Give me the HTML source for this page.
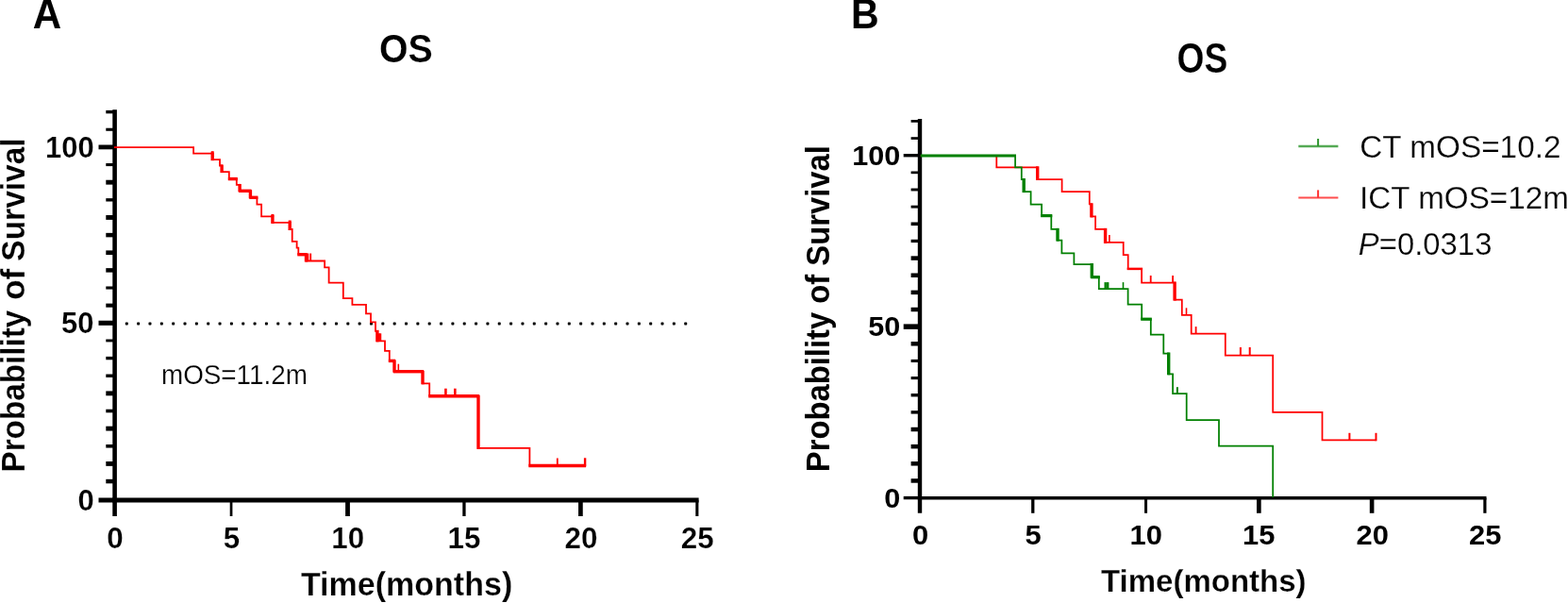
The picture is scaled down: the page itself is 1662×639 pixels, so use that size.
<!DOCTYPE html>
<html lang="en"><head><meta charset="utf-8"><title>OS survival curves</title>
<style>
html,body{margin:0;padding:0;background:#fff;}
body{width:1662px;height:639px;overflow:hidden;}
svg{display:block;}
text{font-family:"Liberation Sans",sans-serif;fill:#000;}
</style></head><body>
<svg width="1662" height="639" viewBox="0 0 1662 639">
<rect width="1662" height="639" fill="#ffffff"/>
<g>
<line x1="121.60" y1="116.20" x2="121.60" y2="547.00" stroke="#000" stroke-width="4.6" />
<line x1="119.30" y1="530.00" x2="740.60" y2="530.00" stroke="#000" stroke-width="5.0" />
<line x1="104.50" y1="530.00" x2="121.60" y2="530.00" stroke="#000" stroke-width="5.0" />
<line x1="112.30" y1="510.06" x2="121.60" y2="510.06" stroke="#000" stroke-width="4.5" />
<line x1="112.30" y1="491.42" x2="121.60" y2="491.42" stroke="#000" stroke-width="4.9" />
<line x1="112.30" y1="472.78" x2="121.60" y2="472.78" stroke="#000" stroke-width="3.6" />
<line x1="112.30" y1="454.14" x2="121.60" y2="454.14" stroke="#000" stroke-width="4.9" />
<line x1="112.30" y1="435.50" x2="121.60" y2="435.50" stroke="#000" stroke-width="3.6" />
<line x1="112.30" y1="416.86" x2="121.60" y2="416.86" stroke="#000" stroke-width="4.9" />
<line x1="112.30" y1="398.22" x2="121.60" y2="398.22" stroke="#000" stroke-width="3.4" />
<line x1="112.30" y1="379.58" x2="121.60" y2="379.58" stroke="#000" stroke-width="3.4" />
<line x1="112.30" y1="360.94" x2="121.60" y2="360.94" stroke="#000" stroke-width="2.9" />
<line x1="104.50" y1="342.30" x2="121.60" y2="342.30" stroke="#000" stroke-width="5.1000000000000005" />
<line x1="112.30" y1="323.66" x2="121.60" y2="323.66" stroke="#000" stroke-width="4.1000000000000005" />
<line x1="112.30" y1="305.02" x2="121.60" y2="305.02" stroke="#000" stroke-width="3.1" />
<line x1="112.30" y1="286.38" x2="121.60" y2="286.38" stroke="#000" stroke-width="4.5" />
<line x1="112.30" y1="267.74" x2="121.60" y2="267.74" stroke="#000" stroke-width="4.7" />
<line x1="112.30" y1="249.10" x2="121.60" y2="249.10" stroke="#000" stroke-width="4.5" />
<line x1="112.30" y1="230.46" x2="121.60" y2="230.46" stroke="#000" stroke-width="4.9" />
<line x1="112.30" y1="211.82" x2="121.60" y2="211.82" stroke="#000" stroke-width="3.4" />
<line x1="112.30" y1="193.18" x2="121.60" y2="193.18" stroke="#000" stroke-width="4.9" />
<line x1="112.30" y1="174.54" x2="121.60" y2="174.54" stroke="#000" stroke-width="3.1" />
<line x1="104.50" y1="155.90" x2="121.60" y2="155.90" stroke="#000" stroke-width="4.800000000000001" />
<line x1="112.30" y1="137.26" x2="121.60" y2="137.26" stroke="#000" stroke-width="3.1" />
<line x1="112.30" y1="118.62" x2="121.60" y2="118.62" stroke="#000" stroke-width="3.4" />
<line x1="245.05" y1="530.00" x2="245.05" y2="547.00" stroke="#000" stroke-width="2.7" />
<line x1="368.50" y1="530.00" x2="368.50" y2="547.00" stroke="#000" stroke-width="4.8" />
<line x1="491.95" y1="530.00" x2="491.95" y2="547.00" stroke="#000" stroke-width="3.3" />
<line x1="615.40" y1="530.00" x2="615.40" y2="547.00" stroke="#000" stroke-width="4.7" />
<line x1="738.85" y1="530.00" x2="738.85" y2="547.00" stroke="#000" stroke-width="3.1" />
<text x="113.38" y="580.60" font-size="30.5" font-weight="bold" textLength="17.47" lengthAdjust="spacingAndGlyphs"  style="stroke:#fff;stroke-width:0.2px;paint-order:fill stroke">0</text>
<text x="236.85" y="580.60" font-size="30.5" font-weight="bold" textLength="17.47" lengthAdjust="spacingAndGlyphs"  style="stroke:#fff;stroke-width:0.2px;paint-order:fill stroke">5</text>
<text x="351.27" y="580.60" font-size="30.5" font-weight="bold" textLength="34.94" lengthAdjust="spacingAndGlyphs"  style="stroke:#fff;stroke-width:0.2px;paint-order:fill stroke">10</text>
<text x="474.49" y="580.60" font-size="30.5" font-weight="bold" textLength="34.94" lengthAdjust="spacingAndGlyphs"  style="stroke:#fff;stroke-width:0.2px;paint-order:fill stroke">15</text>
<text x="598.64" y="580.60" font-size="30.5" font-weight="bold" textLength="34.94" lengthAdjust="spacingAndGlyphs"  style="stroke:#fff;stroke-width:0.2px;paint-order:fill stroke">20</text>
<text x="721.86" y="580.60" font-size="30.5" font-weight="bold" textLength="34.94" lengthAdjust="spacingAndGlyphs"  style="stroke:#fff;stroke-width:0.2px;paint-order:fill stroke">25</text>
<text x="48.09" y="166.60" font-size="30.5" font-weight="bold" textLength="51.65" lengthAdjust="spacingAndGlyphs"  style="stroke:#fff;stroke-width:0.2px;paint-order:fill stroke">100</text>
<text x="65.08" y="353.20" font-size="30.5" font-weight="bold" textLength="34.44" lengthAdjust="spacingAndGlyphs"  style="stroke:#fff;stroke-width:0.2px;paint-order:fill stroke">50</text>
<text x="82.46" y="540.60" font-size="30.5" font-weight="bold" textLength="17.22" lengthAdjust="spacingAndGlyphs"  style="stroke:#fff;stroke-width:0.2px;paint-order:fill stroke">0</text>
<text x="34.85" y="29.70" font-size="45" font-weight="bold" textLength="30.40" lengthAdjust="spacingAndGlyphs" >A</text>
<text x="402.03" y="65.60" font-size="42.5" font-weight="bold" textLength="56.74" lengthAdjust="spacingAndGlyphs"  style="stroke:#fff;stroke-width:0.2px;paint-order:fill stroke">OS</text>
<text x="318.96" y="631.00" font-size="35" font-weight="bold" textLength="224.27" lengthAdjust="spacingAndGlyphs"  style="stroke:#fff;stroke-width:0.25px;paint-order:fill stroke">Time(months)</text>
<text style="stroke:#fff;stroke-width:0.15px;paint-order:fill stroke" transform="translate(25.70,500.56) rotate(-90)" x="0" y="0" font-size="35" font-weight="bold" textLength="171.91" lengthAdjust="spacingAndGlyphs">Probability</text>
<text style="stroke:#fff;stroke-width:0.15px;paint-order:fill stroke" transform="translate(25.70,317.79) rotate(-90)" x="0" y="0" font-size="35" font-weight="bold" textLength="32.85" lengthAdjust="spacingAndGlyphs">of</text>
<text style="stroke:#fff;stroke-width:0.15px;paint-order:fill stroke" transform="translate(25.70,276.71) rotate(-90)" x="0" y="0" font-size="35" font-weight="bold" textLength="130.39" lengthAdjust="spacingAndGlyphs">Survival</text>
<text x="170.99" y="406.60" font-size="30" font-weight="normal" textLength="154.87" lengthAdjust="spacingAndGlyphs"  style="stroke:#fff;stroke-width:0.25px;paint-order:fill stroke">mOS=11.2m</text>
<rect x="132.80" y="341.40" width="3.0" height="3.0" rx="0.7" fill="#000"/>
<rect x="145.14" y="341.40" width="3.0" height="3.0" rx="0.7" fill="#000"/>
<rect x="157.48" y="341.40" width="3.0" height="3.0" rx="0.7" fill="#000"/>
<rect x="169.83" y="341.40" width="3.0" height="3.0" rx="0.7" fill="#000"/>
<rect x="182.17" y="341.40" width="3.0" height="3.0" rx="0.7" fill="#000"/>
<rect x="194.51" y="341.40" width="3.0" height="3.0" rx="0.7" fill="#000"/>
<rect x="206.85" y="341.40" width="3.0" height="3.0" rx="0.7" fill="#000"/>
<rect x="219.19" y="341.40" width="3.0" height="3.0" rx="0.7" fill="#000"/>
<rect x="231.54" y="341.40" width="3.0" height="3.0" rx="0.7" fill="#000"/>
<rect x="243.88" y="341.40" width="3.0" height="3.0" rx="0.7" fill="#000"/>
<rect x="256.22" y="341.40" width="3.0" height="3.0" rx="0.7" fill="#000"/>
<rect x="268.56" y="341.40" width="3.0" height="3.0" rx="0.7" fill="#000"/>
<rect x="280.90" y="341.40" width="3.0" height="3.0" rx="0.7" fill="#000"/>
<rect x="293.25" y="341.40" width="3.0" height="3.0" rx="0.7" fill="#000"/>
<rect x="305.59" y="341.40" width="3.0" height="3.0" rx="0.7" fill="#000"/>
<rect x="317.93" y="341.40" width="3.0" height="3.0" rx="0.7" fill="#000"/>
<rect x="330.27" y="341.40" width="3.0" height="3.0" rx="0.7" fill="#000"/>
<rect x="342.61" y="341.40" width="3.0" height="3.0" rx="0.7" fill="#000"/>
<rect x="354.96" y="341.40" width="3.0" height="3.0" rx="0.7" fill="#000"/>
<rect x="367.30" y="341.40" width="3.0" height="3.0" rx="0.7" fill="#000"/>
<rect x="379.64" y="341.40" width="3.0" height="3.0" rx="0.7" fill="#000"/>
<rect x="391.98" y="341.40" width="3.0" height="3.0" rx="0.7" fill="#000"/>
<rect x="404.32" y="341.40" width="3.0" height="3.0" rx="0.7" fill="#000"/>
<rect x="416.67" y="341.40" width="3.0" height="3.0" rx="0.7" fill="#000"/>
<rect x="429.01" y="341.40" width="3.0" height="3.0" rx="0.7" fill="#000"/>
<rect x="441.35" y="341.40" width="3.0" height="3.0" rx="0.7" fill="#000"/>
<rect x="453.69" y="341.40" width="3.0" height="3.0" rx="0.7" fill="#000"/>
<rect x="466.03" y="341.40" width="3.0" height="3.0" rx="0.7" fill="#000"/>
<rect x="478.38" y="341.40" width="3.0" height="3.0" rx="0.7" fill="#000"/>
<rect x="490.72" y="341.40" width="3.0" height="3.0" rx="0.7" fill="#000"/>
<rect x="503.06" y="341.40" width="3.0" height="3.0" rx="0.7" fill="#000"/>
<rect x="515.40" y="341.40" width="3.0" height="3.0" rx="0.7" fill="#000"/>
<rect x="527.74" y="341.40" width="3.0" height="3.0" rx="0.7" fill="#000"/>
<rect x="540.09" y="341.40" width="3.0" height="3.0" rx="0.7" fill="#000"/>
<rect x="552.43" y="341.40" width="3.0" height="3.0" rx="0.7" fill="#000"/>
<rect x="564.77" y="341.40" width="3.0" height="3.0" rx="0.7" fill="#000"/>
<rect x="577.11" y="341.40" width="3.0" height="3.0" rx="0.7" fill="#000"/>
<rect x="589.45" y="341.40" width="3.0" height="3.0" rx="0.7" fill="#000"/>
<rect x="601.80" y="341.40" width="3.0" height="3.0" rx="0.7" fill="#000"/>
<rect x="614.14" y="341.40" width="3.0" height="3.0" rx="0.7" fill="#000"/>
<rect x="626.48" y="341.40" width="3.0" height="3.0" rx="0.7" fill="#000"/>
<rect x="638.82" y="341.40" width="3.0" height="3.0" rx="0.7" fill="#000"/>
<rect x="651.16" y="341.40" width="3.0" height="3.0" rx="0.7" fill="#000"/>
<rect x="663.51" y="341.40" width="3.0" height="3.0" rx="0.7" fill="#000"/>
<rect x="675.85" y="341.40" width="3.0" height="3.0" rx="0.7" fill="#000"/>
<rect x="688.19" y="341.40" width="3.0" height="3.0" rx="0.7" fill="#000"/>
<rect x="700.53" y="341.40" width="3.0" height="3.0" rx="0.7" fill="#000"/>
<rect x="712.87" y="341.40" width="3.0" height="3.0" rx="0.7" fill="#000"/>
<rect x="725.22" y="341.40" width="3.0" height="3.0" rx="0.7" fill="#000"/>
<path d="M121.00,156.20 H205.10 V162.60 H225.20 V169.20 H233.00 V175.50 H235.10 V182.10 H242.80 V189.60 H250.80 V195.90 H254.10 V202.30 H265.40 V209.30 H272.40 V216.70 H277.10 V229.30 H288.90 V235.90 H307.20 V243.00 H309.70 V255.80 H314.60 V262.70 H316.30 V269.70 H324.50 V276.50 H344.10 V283.30 H348.60 V299.70 H363.80 V316.20 H373.40 V322.80 H388.00 V332.30 H393.00 V341.30 H398.00 V350.80 H399.90 V361.30 H408.00 V371.80 H412.80 V382.40 H418.00 V393.70 H448.00 V406.30 H455.20 V419.70 H507.00 V474.90 H561.40 V493.50 H620.10" fill="none" stroke="#ff0000" stroke-width="1.8" stroke-linejoin="miter"/>
<line x1="225.20" y1="161.60" x2="225.20" y2="170.20" stroke="#ff0000" stroke-width="3.4" />
<line x1="235.10" y1="174.50" x2="235.10" y2="183.10" stroke="#ff0000" stroke-width="3.4" />
<line x1="254.10" y1="194.90" x2="254.10" y2="203.30" stroke="#ff0000" stroke-width="3.4" />
<line x1="265.40" y1="201.30" x2="265.40" y2="210.30" stroke="#ff0000" stroke-width="3.4" />
<line x1="288.90" y1="228.30" x2="288.90" y2="236.90" stroke="#ff0000" stroke-width="3.4" />
<line x1="307.20" y1="234.90" x2="307.20" y2="244.00" stroke="#ff0000" stroke-width="3.4" />
<line x1="324.50" y1="268.70" x2="324.50" y2="277.50" stroke="#ff0000" stroke-width="3.4" />
<line x1="399.90" y1="349.80" x2="399.90" y2="362.30" stroke="#ff0000" stroke-width="3.4" />
<line x1="418.00" y1="381.40" x2="418.00" y2="394.70" stroke="#ff0000" stroke-width="3.4" />
<line x1="448.00" y1="392.70" x2="448.00" y2="407.30" stroke="#ff0000" stroke-width="3.4" />
<line x1="507.00" y1="418.70" x2="507.00" y2="475.90" stroke="#ff0000" stroke-width="3.4" />
<line x1="241.80" y1="189.60" x2="251.80" y2="189.60" stroke="#ff0000" stroke-width="3.4" />
<line x1="253.10" y1="202.30" x2="266.40" y2="202.30" stroke="#ff0000" stroke-width="3.4" />
<line x1="264.40" y1="209.30" x2="273.40" y2="209.30" stroke="#ff0000" stroke-width="3.4" />
<line x1="315.30" y1="269.70" x2="325.50" y2="269.70" stroke="#ff0000" stroke-width="3.4" />
<line x1="411.80" y1="382.40" x2="419.00" y2="382.40" stroke="#ff0000" stroke-width="3.4" />
<line x1="417.00" y1="393.70" x2="449.00" y2="393.70" stroke="#ff0000" stroke-width="3.4" />
<line x1="454.20" y1="419.70" x2="508.00" y2="419.70" stroke="#ff0000" stroke-width="3.4" />
<line x1="560.40" y1="493.50" x2="621.10" y2="493.50" stroke="#ff0000" stroke-width="3.6" />
<line x1="225.20" y1="160.20" x2="225.20" y2="162.60" stroke="#ff0000" stroke-width="3.0" />
<line x1="288.90" y1="226.90" x2="288.90" y2="229.30" stroke="#ff0000" stroke-width="3.0" />
<line x1="307.20" y1="233.50" x2="307.20" y2="235.90" stroke="#ff0000" stroke-width="3.0" />
<line x1="326.40" y1="268.50" x2="326.40" y2="276.50" stroke="#ff0000" stroke-width="1.8" />
<line x1="329.20" y1="268.50" x2="329.20" y2="276.50" stroke="#ff0000" stroke-width="1.8" />
<line x1="401.50" y1="353.30" x2="401.50" y2="361.30" stroke="#ff0000" stroke-width="2.5" />
<line x1="403.00" y1="353.30" x2="403.00" y2="361.30" stroke="#ff0000" stroke-width="2.5" />
<line x1="422.30" y1="385.70" x2="422.30" y2="393.70" stroke="#ff0000" stroke-width="1.6" />
<line x1="472.40" y1="411.70" x2="472.40" y2="419.70" stroke="#ff0000" stroke-width="2.6" />
<line x1="482.30" y1="411.70" x2="482.30" y2="419.70" stroke="#ff0000" stroke-width="2.6" />
<line x1="590.80" y1="485.50" x2="590.80" y2="493.50" stroke="#ff0000" stroke-width="1.8" />
<line x1="620.10" y1="485.30" x2="620.10" y2="494.30" stroke="#ff0000" stroke-width="2.4" />
<line x1="975.00" y1="126.00" x2="975.00" y2="543.80" stroke="#000" stroke-width="4.4" />
<line x1="972.80" y1="527.70" x2="1575.50" y2="527.70" stroke="#000" stroke-width="3.5" />
<line x1="957.70" y1="527.60" x2="975.00" y2="527.60" stroke="#000" stroke-width="3.4" />
<line x1="965.60" y1="509.46" x2="975.00" y2="509.46" stroke="#000" stroke-width="4.5" />
<line x1="965.60" y1="491.31" x2="975.00" y2="491.31" stroke="#000" stroke-width="4.5" />
<line x1="965.60" y1="473.17" x2="975.00" y2="473.17" stroke="#000" stroke-width="4.5" />
<line x1="965.60" y1="455.02" x2="975.00" y2="455.02" stroke="#000" stroke-width="4.5" />
<line x1="965.60" y1="436.88" x2="975.00" y2="436.88" stroke="#000" stroke-width="3.4" />
<line x1="965.60" y1="418.73" x2="975.00" y2="418.73" stroke="#000" stroke-width="3.4" />
<line x1="965.60" y1="400.59" x2="975.00" y2="400.59" stroke="#000" stroke-width="3.1" />
<line x1="965.60" y1="382.44" x2="975.00" y2="382.44" stroke="#000" stroke-width="3.1" />
<line x1="965.60" y1="364.30" x2="975.00" y2="364.30" stroke="#000" stroke-width="4.5" />
<line x1="957.70" y1="346.15" x2="975.00" y2="346.15" stroke="#000" stroke-width="5.5" />
<line x1="965.60" y1="328.00" x2="975.00" y2="328.00" stroke="#000" stroke-width="4.5" />
<line x1="965.60" y1="309.86" x2="975.00" y2="309.86" stroke="#000" stroke-width="4.5" />
<line x1="965.60" y1="291.72" x2="975.00" y2="291.72" stroke="#000" stroke-width="4.5" />
<line x1="965.60" y1="273.57" x2="975.00" y2="273.57" stroke="#000" stroke-width="4.5" />
<line x1="965.60" y1="255.43" x2="975.00" y2="255.43" stroke="#000" stroke-width="3.3" />
<line x1="965.60" y1="237.28" x2="975.00" y2="237.28" stroke="#000" stroke-width="3.6" />
<line x1="965.60" y1="219.13" x2="975.00" y2="219.13" stroke="#000" stroke-width="2.9" />
<line x1="965.60" y1="200.99" x2="975.00" y2="200.99" stroke="#000" stroke-width="2.9" />
<line x1="965.60" y1="182.84" x2="975.00" y2="182.84" stroke="#000" stroke-width="2.6999999999999997" />
<line x1="957.70" y1="164.70" x2="975.00" y2="164.70" stroke="#000" stroke-width="3.4" />
<line x1="965.60" y1="146.55" x2="975.00" y2="146.55" stroke="#000" stroke-width="2.6999999999999997" />
<line x1="965.60" y1="128.41" x2="975.00" y2="128.41" stroke="#000" stroke-width="2.6999999999999997" />
<line x1="1094.78" y1="527.70" x2="1094.78" y2="543.80" stroke="#000" stroke-width="3.3" />
<line x1="1214.56" y1="527.70" x2="1214.56" y2="543.80" stroke="#000" stroke-width="3.0" />
<line x1="1334.34" y1="527.70" x2="1334.34" y2="543.80" stroke="#000" stroke-width="4.7" />
<line x1="1454.12" y1="527.70" x2="1454.12" y2="543.80" stroke="#000" stroke-width="4.6" />
<line x1="1573.90" y1="527.70" x2="1573.90" y2="543.80" stroke="#000" stroke-width="3.2" />
<text x="966.93" y="576.60" font-size="30" font-weight="bold" textLength="17.19" lengthAdjust="spacingAndGlyphs" >0</text>
<text x="1086.63" y="576.60" font-size="30" font-weight="bold" textLength="17.19" lengthAdjust="spacingAndGlyphs" >5</text>
<text x="1197.52" y="576.60" font-size="30" font-weight="bold" textLength="34.37" lengthAdjust="spacingAndGlyphs" >10</text>
<text x="1317.07" y="576.60" font-size="30" font-weight="bold" textLength="34.37" lengthAdjust="spacingAndGlyphs" >15</text>
<text x="1437.55" y="576.60" font-size="30" font-weight="bold" textLength="34.37" lengthAdjust="spacingAndGlyphs" >20</text>
<text x="1557.10" y="576.60" font-size="30" font-weight="bold" textLength="34.37" lengthAdjust="spacingAndGlyphs" >25</text>
<text x="903.19" y="175.00" font-size="29.7" font-weight="bold" textLength="51.04" lengthAdjust="spacingAndGlyphs" >100</text>
<text x="920.17" y="356.00" font-size="29.7" font-weight="bold" textLength="34.03" lengthAdjust="spacingAndGlyphs" >50</text>
<text x="937.15" y="537.50" font-size="29.7" font-weight="bold" textLength="17.01" lengthAdjust="spacingAndGlyphs" >0</text>
<text x="901.94" y="29.90" font-size="45" font-weight="bold" textLength="29.60" lengthAdjust="spacingAndGlyphs" >B</text>
<text x="1247.51" y="76.80" font-size="43.5" font-weight="bold" textLength="53.79" lengthAdjust="spacingAndGlyphs"  style="stroke:#fff;stroke-width:0.2px;paint-order:fill stroke">OS</text>
<text x="1166.97" y="626.60" font-size="34" font-weight="bold" textLength="217.61" lengthAdjust="spacingAndGlyphs"  style="stroke:#fff;stroke-width:0.25px;paint-order:fill stroke">Time(months)</text>
<text style="" transform="translate(878.90,500.13) rotate(-90)" x="0" y="0" font-size="34.5" font-weight="bold" textLength="345.93" lengthAdjust="spacingAndGlyphs">Probability of Survival</text>
<path d="M975.80,165.10 H1056.30 V177.30 H1099.70 V190.00 H1125.60 V203.10 H1154.80 V216.30 H1156.90 V229.40 H1161.10 V242.80 H1171.60 V256.90 H1190.70 V270.20 H1195.70 V284.90 H1210.10 V299.50 H1245.10 V317.60 H1252.80 V333.80 H1262.70 V353.60 H1298.80 V376.50 H1349.20 V436.80 H1401.50 V466.30 H1458.50" fill="none" stroke="#ff0000" stroke-width="1.75" stroke-linejoin="miter"/>
<line x1="1099.70" y1="176.30" x2="1099.70" y2="191.00" stroke="#ff0000" stroke-width="3.4" />
<line x1="1156.90" y1="215.30" x2="1156.90" y2="230.40" stroke="#ff0000" stroke-width="3.4" />
<line x1="1171.60" y1="241.80" x2="1171.60" y2="257.90" stroke="#ff0000" stroke-width="3.4" />
<line x1="1245.10" y1="298.50" x2="1245.10" y2="318.60" stroke="#ff0000" stroke-width="3.4" />
<line x1="1194.70" y1="284.90" x2="1211.10" y2="284.90" stroke="#ff0000" stroke-width="2.5" />
<line x1="1175.90" y1="248.90" x2="1175.90" y2="256.90" stroke="#ff0000" stroke-width="1.6" />
<line x1="1219.70" y1="292.00" x2="1219.70" y2="299.50" stroke="#ff0000" stroke-width="1.8" />
<line x1="1243.10" y1="292.00" x2="1243.10" y2="299.50" stroke="#ff0000" stroke-width="1.8" />
<line x1="1257.50" y1="326.30" x2="1257.50" y2="333.80" stroke="#ff0000" stroke-width="1.6" />
<line x1="1267.60" y1="346.10" x2="1267.60" y2="353.60" stroke="#ff0000" stroke-width="1.8" />
<line x1="1314.90" y1="368.00" x2="1314.90" y2="376.50" stroke="#ff0000" stroke-width="2.0" />
<line x1="1324.70" y1="368.00" x2="1324.70" y2="376.50" stroke="#ff0000" stroke-width="2.0" />
<line x1="1430.40" y1="458.80" x2="1430.40" y2="466.30" stroke="#ff0000" stroke-width="2.0" />
<line x1="1458.50" y1="458.80" x2="1458.50" y2="467.30" stroke="#ff0000" stroke-width="2.0" />
<path d="M975.80,165.10 H1076.10 V177.30 H1082.80 V190.00 H1085.20 V203.10 H1092.60 V216.50 H1104.10 V228.60 H1114.30 V242.80 H1121.00 V254.60 H1125.40 V268.30 H1138.40 V280.00 H1157.30 V293.70 H1164.80 V306.10 H1195.60 V322.60 H1210.20 V338.20 H1219.80 V354.70 H1233.30 V374.50 H1238.70 V396.30 H1243.10 V417.20 H1257.70 V445.10 H1292.00 V472.70 H1349.20 V527.00" fill="none" stroke="#008000" stroke-width="1.75" stroke-linejoin="miter"/>
<line x1="975.80" y1="165.10" x2="1077.00" y2="165.10" stroke="#008000" stroke-width="3.0" />
<line x1="1085.20" y1="189.00" x2="1085.20" y2="204.10" stroke="#008000" stroke-width="3.4" />
<line x1="1121.00" y1="241.80" x2="1121.00" y2="255.60" stroke="#008000" stroke-width="3.4" />
<line x1="1157.30" y1="279.00" x2="1157.30" y2="294.70" stroke="#008000" stroke-width="3.4" />
<line x1="1238.70" y1="373.50" x2="1238.70" y2="397.30" stroke="#008000" stroke-width="3.4" />
<line x1="1103.10" y1="228.60" x2="1115.30" y2="228.60" stroke="#008000" stroke-width="3.2" />
<line x1="1156.30" y1="293.70" x2="1165.80" y2="293.70" stroke="#008000" stroke-width="3.2" />
<line x1="1209.20" y1="338.20" x2="1220.80" y2="338.20" stroke="#008000" stroke-width="3.2" />
<line x1="1171.70" y1="299.10" x2="1171.70" y2="306.10" stroke="#008000" stroke-width="2.4" />
<line x1="1174.20" y1="299.10" x2="1174.20" y2="306.10" stroke="#008000" stroke-width="2.4" />
<line x1="1190.50" y1="299.10" x2="1190.50" y2="306.10" stroke="#008000" stroke-width="1.6" />
<line x1="1247.90" y1="410.20" x2="1247.90" y2="417.20" stroke="#008000" stroke-width="2.0" />
<line x1="1376.30" y1="155.00" x2="1418.40" y2="155.00" stroke="#55aa55" stroke-width="2.6" />
<line x1="1397.10" y1="147.00" x2="1397.10" y2="155.00" stroke="#2e962e" stroke-width="2.0" />
<line x1="1376.30" y1="209.60" x2="1418.40" y2="209.60" stroke="#ff4d4d" stroke-width="2.0" />
<line x1="1397.10" y1="201.40" x2="1397.10" y2="209.60" stroke="#ff3333" stroke-width="2.0" />
<text x="1441.13" y="166.60" font-size="33.8" font-weight="normal" textLength="213.37" lengthAdjust="spacingAndGlyphs"  style="stroke:#fff;stroke-width:0.25px;paint-order:fill stroke">CT mOS=10.2</text>
<text x="1441.01" y="220.90" font-size="33.8" font-weight="normal" textLength="221.85" lengthAdjust="spacingAndGlyphs"  style="stroke:#fff;stroke-width:0.25px;paint-order:fill stroke">ICT mOS=12m</text>
<text x="1439.8" y="269.7" font-size="33.8" textLength="141.6" lengthAdjust="spacingAndGlyphs" style="stroke:#fff;stroke-width:0.25px;paint-order:fill stroke"><tspan font-style="italic">P</tspan>=0.0313</text>
</g>
</svg>
</body></html>
